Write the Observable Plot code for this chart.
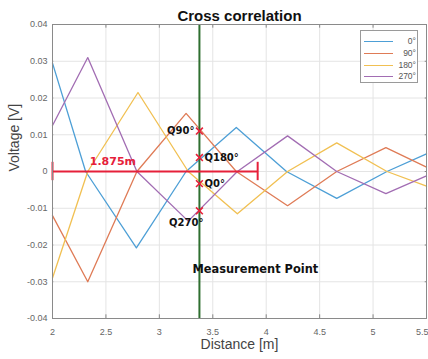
<!DOCTYPE html>
<html>
<head>
<meta charset="utf-8">
<script src="https://cdn.jsdelivr.net/npm/d3@7"></script>
<script src="https://cdn.jsdelivr.net/npm/@observablehq/plot@0.6"></script>
<style>
  body { margin: 0; background: #fff; }
  #wrap { position: relative; width: 428px; height: 359px; overflow: hidden; }
  #legend { position: absolute; left: 360px; top: 30px; width: 58px; height: 53px; border: 1px solid #9a9a9a; background: #fff; box-sizing: border-box; font: 8.5px "Liberation Sans", Arial, sans-serif; color: #555; }
  .row { position: absolute; left: 3px; width: 52px; height: 10px; }
  .row .ln { position: absolute; left: 0; top: 5px; width: 29px; height: 0; border-top: 1.2px solid; }
  .row .lb { position: absolute; right: 0; top: 0px; text-align: right; }
</style>
</head>
<body>
<div id="wrap"></div>
<script>
// Series
const seriesNames = ["0°", "90°", "180°", "270°"];
const seriesColors = ["#4d9fd6", "#df7b56", "#f1c052", "#a26db3"];

const dist0 = [2, 2.31, 2.785, 3.25, 3.72, 4.19, 4.66, 5.13, 5.5];
const volt0 = [0.0295, 0, -0.0208, 0, 0.012, 0, -0.0073, 0, 0.0048];

const dist90 = [2, 2.33, 2.79, 3.25, 3.72, 4.2, 4.66, 5.12, 5.5];
const volt90 = [-0.012, -0.030, 0, 0.0158, 0, -0.0093, 0, 0.0065, 0.0012];

const dist180 = [2, 2.33, 2.8, 3.27, 3.73, 4.2, 4.66, 5.13, 5.5];
const volt180 = [-0.029, 0, 0.0215, 0, -0.0115, 0, 0.0078, 0, -0.004];

const dist270 = [2, 2.33, 2.79, 3.27, 3.73, 4.2, 4.66, 5.12, 5.5];
const volt270 = [0.0125, 0.031, 0, -0.0135, 0, 0.0097, 0, -0.006, -0.0012];

// Annotations
const measurementPoint = 3.375;
const spanStart = 2;
const spanEnd = 3.92;
const spanLabel = "1.875m";
const qLabels = ["Q90°", "Q180°", "Q0°", "Q270°"];
const qValues = [0.011, 0.0038, -0.0033, -0.0107];

// Ticks
const xTicks = [2, 2.5, 3, 3.5, 4, 4.5, 5, 5.5];
const yTicks = [-0.04, -0.03, -0.02, -0.01, 0, 0.01, 0.02, 0.03, 0.04];

const titleText = "Cross correlation";
const xLabel = "Distance [m]";
const yLabel = "Voltage [V]";

const allDist = [dist0, dist90, dist180, dist270];
const allVolt = [volt0, volt90, volt180, volt270];
const rows = [];
seriesNames.forEach((s, i) => allDist[i].forEach((d, j) => rows.push({series: s, x: d, y: allVolt[i][j]})));
const qRows = qLabels.map((q, i) => ({label: q, x: measurementPoint, y: qValues[i]}));

const red = "#e6203a";
const tickFont = "Liberation Sans, Arial, sans-serif";
const yFmt = d => d === 0 ? "0" : d.toFixed(2);
const xFmt = d => String(d);
const xMin = xTicks[0], xMax = xTicks[xTicks.length - 1];
const yMin = yTicks[0], yMax = yTicks[yTicks.length - 1];
const tickLenY = 0.001, tickLenX = 0.012;

const chart = Plot.plot({
  width: 428,
  height: 359,
  marginLeft: 52,
  marginRight: 2,
  marginTop: 24,
  marginBottom: 41,
  style: {background: "#fff", fontFamily: tickFont},
  x: {domain: [xMin, xMax], axis: null},
  y: {domain: [yMin, yMax], axis: null},
  color: {domain: seriesNames, range: seriesColors},
  marks: [
    Plot.gridX(xTicks, {stroke: "#e4e4e4", strokeOpacity: 1, strokeWidth: 1}),
    Plot.gridY(yTicks, {stroke: "#e4e4e4", strokeOpacity: 1, strokeWidth: 1}),
    // inward ticks on all sides
    Plot.ruleX(xTicks, {y1: yMin, y2: yMin + tickLenY, stroke: "#888"}),
    Plot.ruleX(xTicks, {y1: yMax, y2: yMax - tickLenY, stroke: "#888"}),
    Plot.ruleY(yTicks, {x1: xMin, x2: xMin + tickLenX, stroke: "#888"}),
    Plot.ruleY(yTicks, {x1: xMax, x2: xMax - tickLenX, stroke: "#888"}),
    Plot.axisX(xTicks.slice(0, -1), {tickSize: 0, tickPadding: 10, tickFormat: xFmt, fontSize: 9, fill: "#666", label: null}),
    Plot.axisX(xTicks.slice(-1), {tickSize: 0, tickPadding: 10, tickFormat: xFmt, fontSize: 9, fill: "#666", label: null, textAnchor: "end", dx: 2}),
    Plot.axisY(yTicks, {tickSize: 0, tickPadding: 5, tickFormat: yFmt, fontSize: 9, fill: "#666", label: null}),
    Plot.line(rows, {x: "x", y: "y", z: "series", stroke: "series", strokeWidth: 1.3}),
    // measurement point
    Plot.ruleX([measurementPoint], {y1: yMin, y2: yMax, stroke: "#2f6f30", strokeWidth: 2}),
    // span line
    Plot.ruleY([0], {x1: spanStart, x2: spanEnd, stroke: red, strokeWidth: 2}),
    Plot.ruleX([spanStart, spanEnd], {y1: -0.0025, y2: 0.0025, stroke: red, strokeWidth: 2}),
    Plot.text([spanLabel], {x: 2.565, y: 0.0028, fill: red, fontWeight: "bold", fontSize: 11, fontFamily: "DejaVu Sans"}),
    // quadrature markers
    Plot.dot(qRows, {x: "x", y: "y", symbol: "times", r: 3.2, stroke: red, strokeWidth: 1.6}),
    Plot.text(qRows.filter(d => d.label === "Q90°"), {x: "x", y: "y", text: "label", textAnchor: "end", dx: -5, fontWeight: "bold", fontSize: 10, fontFamily: "DejaVu Sans", fill: "#111"}),
    Plot.text(qRows.filter(d => d.label === "Q180°" || d.label === "Q0°"), {x: "x", y: "y", text: "label", textAnchor: "start", dx: 5, fontWeight: "bold", fontSize: 10, fontFamily: "DejaVu Sans", fill: "#111"}),
    Plot.text(qRows.filter(d => d.label === "Q270°"), {x: "x", y: "y", text: "label", textAnchor: "end", dx: 4, dy: 12, fontWeight: "bold", fontSize: 10, fontFamily: "DejaVu Sans", fill: "#111"}),
    Plot.text(["Measurement Point"], {x: 3.31, y: -0.0265, textAnchor: "start", fontWeight: "bold", fontSize: 11.4, fontFamily: "DejaVu Sans", fill: "#111"}),
    Plot.frame({stroke: "#8a8a8a"}),
    // title and axis labels
    Plot.text([titleText], {frameAnchor: "top", dy: -14, fontWeight: "bold", fontSize: 15, fontFamily: "Liberation Sans", fill: "#111"}),
    Plot.text([xLabel], {frameAnchor: "bottom", dy: 30, fontSize: 14, fontFamily: "Liberation Sans", fill: "#444"}),
    Plot.text([yLabel], {frameAnchor: "left", rotate: -90, dx: -38, fontSize: 14, fontFamily: "Liberation Sans", fill: "#444"})
  ]
});

const wrap = document.getElementById("wrap");
wrap.appendChild(chart);

const legend = document.createElement("div");
legend.id = "legend";
seriesNames.forEach((s, i) => {
  const r = document.createElement("div");
  r.className = "row";
  r.style.top = (5 + i * 11.8) + "px";
  const ln = document.createElement("span");
  ln.className = "ln";
  ln.style.borderTopColor = seriesColors[i];
  const lb = document.createElement("span");
  lb.className = "lb";
  lb.textContent = s;
  r.appendChild(ln);
  r.appendChild(lb);
  legend.appendChild(r);
});
wrap.appendChild(legend);
</script>
</body>
</html>
